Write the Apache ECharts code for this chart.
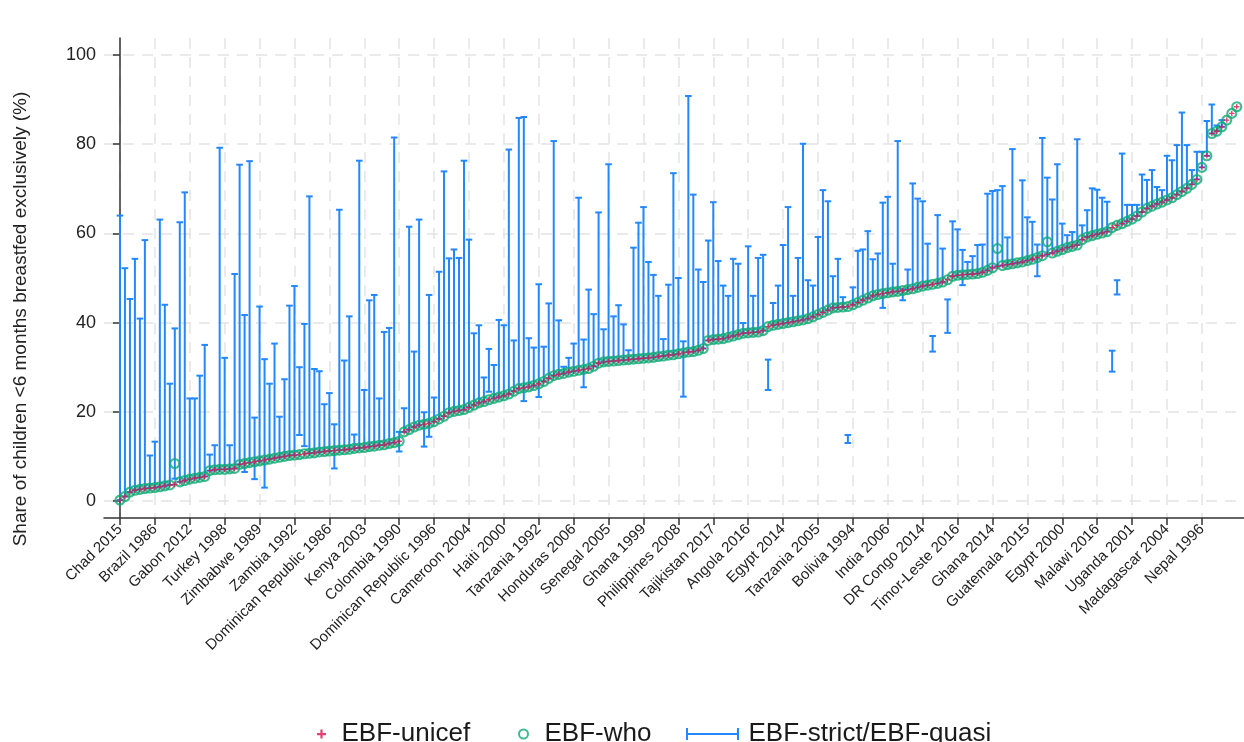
<!DOCTYPE html>
<html>
<head>
<meta charset="utf-8">
<script src="https://cdn.jsdelivr.net/npm/echarts@6.0.0/dist/echarts.min.js"></script>
<style>html,body{margin:0;padding:0;background:#fff}#c{width:1244px;height:742px}</style>
</head>
<body>
<div id="c"></div>
<script>
// Tick positions (category index) and their labels
const tickIndex = [0,7,14,21,28,35,42,49,56,63,70,77,84,91,98,105,112,119,126,133,140,147,154,161,168,175,182,189,196,203,210,217];
const tickLabels = ["Chad 2015","Brazil 1986","Gabon 2012","Turkey 1998","Zimbabwe 1989","Zambia 1992","Dominican Republic 1986","Kenya 2003","Colombia 1990","Dominican Republic 1996","Cameroon 2004","Haiti 2000","Tanzania 1992","Honduras 2006","Senegal 2005","Ghana 1999","Philippines 2008","Tajikistan 2017","Angola 2016","Egypt 2014","Tanzania 2005","Bolivia 1994","India 2006","DR Congo 2014","Timor-Leste 2016","Ghana 2014","Guatemala 2015","Egypt 2000","Malawi 2016","Uganda 2001","Madagascar 2004","Nepal 1996"];
const yTicks = [0,20,40,60,80,100];

// EBF-unicef (sorted survey values)
const unicef = [
0.2,1.0,2.0,2.4,2.6,2.8,2.9,3.0,3.2,3.4,
3.6,3.7,4.3,4.6,4.9,5.1,5.3,5.5,6.8,7.0,
7.1,7.1,7.2,7.3,8.2,8.4,8.6,8.8,9.0,9.2,
9.4,9.6,9.8,10.0,10.2,10.3,10.4,10.6,10.7,10.8,
11.0,11.1,11.2,11.3,11.4,11.5,11.6,11.8,11.9,12.0,
12.2,12.3,12.5,12.6,12.9,13.1,13.4,15.5,16.0,16.6,
17.0,17.2,17.4,17.8,18.4,19.0,19.8,20.1,20.3,20.5,
21.0,21.5,22.0,22.3,22.7,23.0,23.3,23.6,24.0,24.6,
25.2,25.4,25.6,25.9,26.3,26.8,27.5,28.1,28.4,28.6,
28.9,29.1,29.3,29.5,29.7,30.2,30.9,31.2,31.3,31.4,
31.5,31.6,31.7,31.8,31.9,32.0,32.1,32.2,32.4,32.5,
32.7,32.8,33.0,33.2,33.4,33.5,33.8,34.2,36.0,36.2,
36.3,36.4,36.7,37.0,37.3,37.6,37.7,37.8,37.9,38.2,
39.1,39.4,39.6,39.8,40.0,40.2,40.4,40.6,40.9,41.3,
41.8,42.3,42.8,43.3,43.4,43.5,43.6,44.0,44.5,45.0,
45.5,46.0,46.3,46.5,46.7,46.9,47.0,47.2,47.4,47.6,
47.9,48.2,48.4,48.6,48.8,49.1,49.6,50.4,50.6,50.7,
50.8,50.9,51.0,51.3,51.7,52.3,52.6,52.8,53.0,53.2,
53.4,53.6,53.9,54.2,54.6,55.0,55.3,55.6,56.0,56.4,
56.8,57.1,57.4,58.6,59.2,59.5,59.8,60.1,60.4,61.3,
61.8,62.2,62.7,63.2,63.9,64.8,65.6,66.1,66.6,67.0,
67.5,68.0,68.7,69.4,70.1,71.0,72.1,74.8,77.4,82.4,
82.9,83.9,85.4,86.9,88.4];

// EBF-who
const who = [
0.2,1.0,2.0,2.4,2.6,2.8,2.9,3.0,3.2,3.4,
3.6,8.4,4.3,4.6,4.9,5.1,5.3,5.5,6.8,7.0,
7.1,7.1,7.2,7.3,8.2,8.4,8.6,8.8,9.0,9.2,
9.4,9.6,9.8,10.0,10.2,10.3,10.4,10.6,10.7,10.8,
11.0,11.1,11.2,11.3,11.4,11.5,11.6,11.8,11.9,12.0,
12.2,12.3,12.5,12.6,12.9,13.1,13.4,15.5,16.0,16.6,
17.0,17.2,17.4,17.8,18.4,19.0,19.8,20.1,20.3,20.5,
21.0,21.5,22.0,22.3,22.7,23.0,23.3,23.6,24.0,24.6,
25.2,25.4,25.6,25.9,26.3,26.8,27.5,28.1,28.4,28.6,
28.9,29.1,29.3,29.5,29.7,30.2,30.9,31.2,31.3,31.4,
31.5,31.6,31.7,31.8,31.9,32.0,32.1,32.2,32.4,32.5,
32.7,32.8,33.0,33.2,33.4,33.5,33.8,34.2,36.0,36.2,
36.3,36.4,36.7,37.0,37.3,37.6,37.7,37.8,37.9,38.2,
39.1,39.4,39.6,39.8,40.0,40.2,40.4,40.6,40.9,41.3,
41.8,42.3,42.8,43.3,43.4,43.5,43.6,44.0,44.5,45.0,
45.5,46.0,46.3,46.5,46.7,46.9,47.0,47.2,47.4,47.6,
47.9,48.2,48.4,48.6,48.8,49.1,49.6,50.4,50.6,50.7,
50.8,50.9,51.0,51.3,51.7,52.3,56.6,52.8,53.0,53.2,
53.4,53.6,53.9,54.2,54.6,55.0,58.1,55.6,56.0,56.4,
56.8,57.1,57.4,58.6,59.2,59.5,59.8,60.1,60.4,61.3,
61.8,62.2,62.7,63.2,63.9,64.8,65.6,66.1,66.6,67.0,
67.5,68.0,68.7,69.4,70.1,71.0,72.1,74.8,77.4,82.4,
82.9,83.9,85.4,86.9,88.4];

// EBF-strict (lower end of range)
const strictLow = [
0.2,1.0,2.0,2.4,2.6,2.8,2.9,3.0,3.2,3.4,
3.6,5.0,4.3,4.6,4.9,5.1,5.3,5.5,6.8,7.0,
7.1,7.1,7.2,7.3,8.2,6.5,8.6,4.9,9.0,3.0,
9.4,9.6,9.8,10.0,10.2,10.3,14.8,12.3,10.7,10.8,
11.0,11.1,11.2,7.3,11.4,11.5,11.6,11.8,11.9,12.0,
12.2,12.3,12.5,12.6,12.9,13.1,11.1,15.5,16.0,16.6,
17.0,12.2,14.4,17.8,18.4,19.0,19.8,20.1,20.3,20.5,
21.0,21.5,22.0,22.3,24.5,23.0,23.3,23.6,24.0,24.6,
25.2,22.4,25.6,25.9,23.3,26.8,27.5,28.1,28.4,28.6,
28.9,29.1,29.3,25.5,29.7,30.2,30.9,31.2,31.3,31.4,
31.5,31.6,31.7,31.8,31.9,32.0,32.1,32.2,32.4,32.5,
32.7,32.8,33.0,23.4,33.4,33.5,33.8,34.2,36.0,36.2,
36.3,36.4,36.7,37.0,37.3,37.6,37.7,37.8,37.9,38.2,
24.9,39.4,39.6,39.8,40.0,40.2,40.4,40.6,40.9,41.3,
41.8,42.3,42.8,43.3,43.4,43.5,13.0,44.0,44.5,45.0,
45.5,46.0,46.3,43.3,46.7,46.9,47.0,45.0,47.4,47.6,
47.9,48.2,48.4,33.5,48.8,49.1,37.7,50.4,50.6,48.4,
50.8,50.9,51.0,51.3,51.7,52.3,52.6,52.8,53.0,53.2,
53.4,53.6,53.9,54.2,50.4,55.0,55.3,55.6,56.0,56.4,
56.8,57.1,57.4,58.6,59.2,59.5,59.8,60.1,60.4,29.0,
46.3,62.2,62.7,63.2,63.9,64.8,65.6,66.1,66.6,67.0,
67.5,68.0,68.7,69.4,70.1,71.0,72.1,74.8,77.4,82.4,
82.9,83.9,null,null,null];

// EBF-quasi (upper end of range)
const quasiHigh = [
64.0,52.2,45.3,54.3,40.9,58.5,10.2,13.3,63.1,44.0,
26.3,38.7,62.5,69.2,23.0,23.0,28.1,35.0,10.4,12.5,
79.2,32.1,12.5,50.9,75.4,41.7,76.2,18.7,43.6,31.8,
26.3,35.3,18.9,27.3,43.8,48.2,30.0,39.7,68.3,29.6,
29.1,21.7,24.2,17.2,65.3,31.5,41.4,14.9,76.3,24.9,
45.0,46.2,23.0,37.9,38.8,81.5,15.5,20.8,61.5,33.5,
63.1,19.9,46.2,23.2,51.4,73.9,54.4,56.4,54.5,76.3,
58.6,37.6,39.4,27.7,34.1,30.5,40.6,39.4,78.8,36.0,
85.9,86.1,36.5,34.4,48.6,34.6,44.3,80.7,40.5,30.1,
32.1,35.3,68.0,36.2,47.4,41.9,64.7,38.5,75.5,41.4,
43.9,39.6,33.8,56.8,62.4,65.9,53.6,50.7,46.0,36.3,
48.5,73.5,50.0,35.8,90.8,68.7,51.9,49.1,58.4,67.0,
53.8,48.3,46.0,54.3,53.2,39.9,57.1,46.0,54.5,55.2,
31.7,44.4,48.3,57.4,65.9,46.0,54.5,80.1,49.5,48.3,
59.2,69.7,67.2,50.4,54.3,45.7,14.8,47.9,56.1,56.4,
60.5,54.2,55.5,66.9,68.2,53.2,80.7,47.5,51.9,71.2,
67.8,67.2,57.7,37.0,64.1,56.6,45.2,62.7,60.9,56.3,
53.6,54.9,57.4,57.5,68.9,69.5,69.7,70.6,59.1,78.9,
53.4,71.9,63.6,62.6,57.5,81.4,72.5,67.6,75.5,62.2,
59.6,60.3,81.1,61.8,65.2,70.1,69.8,68.0,67.1,33.7,
49.5,77.9,66.4,66.4,66.4,73.2,72.0,74.2,70.4,69.7,
77.4,76.4,79.8,87.1,79.8,74.2,78.3,78.3,85.2,88.9,
84.2,85.4,null,null,null];

const BLUE = '#2388ff', GREEN = '#10aa76', RED = '#d4174f';
const PLUS = 'path://M3,0h2v3h3v2h-3v3h-2v-3h-3v-2h3z';
const BARICON = 'path://M0,0h2v5h49v-5h2v12h-2v-5h-49v5h-2z';
const FONT = '"Liberation Sans", Arial, sans-serif';

const unicefData = unicef.map((v, i) => [i, v]);
const whoData = who.map((v, i) => [i, v]);
const rangeData = [];
quasiHigh.forEach((h, i) => { if (h != null && strictLow[i] != null) rangeData.push([i, strictLow[i], h]); });

const chart = echarts.init(document.getElementById('c'), null, {renderer: 'canvas'});
const gridStyle = {color: '#e4e4e4', type: [11, 8], width: 1.5};
const axisStyle = {color: '#333', width: 1.5};

chart.setOption({
  animation: false,
  textStyle: {fontFamily: FONT},
  grid: {left: 104, right: 0, top: 38, bottom: 224},
  xAxis: {
    type: 'value', min: -3.2, max: 225.45,
    axisLine: {show: true, onZero: false, lineStyle: axisStyle},
    axisTick: {show: true, customValues: tickIndex, length: 7, lineStyle: axisStyle},
    axisLabel: {
      customValues: tickIndex, rotate: 45, fontSize: 15, color: '#222', margin: 9, fontFamily: FONT,
      formatter: v => { const k = tickIndex.indexOf(Math.round(v)); return k >= 0 ? tickLabels[k] : ''; }
    },
    splitLine: {show: true, lineStyle: gridStyle}
  },
  yAxis: {
    type: 'value', min: -3.81, max: 103.81,
    name: 'Share of children <6 months breastfed exclusively (%)',
    nameLocation: 'middle', nameGap: 74,
    nameTextStyle: {fontSize: 19, color: '#222', fontFamily: FONT, padding: [0, 82, 0, 0]},
    axisLine: {show: true, lineStyle: axisStyle},
    axisTick: {show: true, customValues: yTicks, length: 7, lineStyle: axisStyle},
    axisLabel: {customValues: yTicks, fontSize: 18, color: '#222', margin: 8, fontFamily: FONT},
    splitLine: {show: true, lineStyle: gridStyle}
  },
  legend: [
    {data: [{name: 'EBF-unicef', icon: PLUS}], left: 312, top: 716, itemWidth: 30, itemHeight: 9,
     selectedMode: false, itemStyle: {color: RED, borderWidth: 0},
     textStyle: {fontSize: 26, color: '#1a1a1a', fontFamily: FONT}},
    {data: [{name: 'EBF-who', icon: 'circle'}], left: 513, top: 716, itemWidth: 32, itemHeight: 9,
     selectedMode: false, itemStyle: {color: '#fff', borderColor: GREEN, borderWidth: 2},
     textStyle: {fontSize: 26, color: '#1a1a1a', fontFamily: FONT}},
    {data: [{name: 'EBF-strict/EBF-quasi', icon: BARICON}], left: 681, top: 716, itemWidth: 62, itemHeight: 12,
     selectedMode: false, itemStyle: {color: BLUE, borderWidth: 0},
     textStyle: {fontSize: 26, color: '#1a1a1a', fontFamily: FONT}}
  ],
  series: [
    {
      name: 'EBF-strict/EBF-quasi', type: 'custom', z: 1,
      itemStyle: {color: BLUE},
      encode: {x: 0, y: [1, 2]},
      data: rangeData,
      renderItem: function (params, api) {
        const x = api.value(0), lo = api.value(1), hi = api.value(2);
        const a = api.coord([x, lo]), b = api.coord([x, hi]);
        const hw = 3.3;
        const st = {stroke: BLUE, lineWidth: 2, fill: null};
        return {type: 'group', children: [
          {type: 'line', shape: {x1: a[0], y1: a[1], x2: b[0], y2: b[1]}, style: st},
          {type: 'line', shape: {x1: a[0] - hw, y1: a[1], x2: a[0] + hw, y2: a[1]}, style: st},
          {type: 'line', shape: {x1: b[0] - hw, y1: b[1], x2: b[0] + hw, y2: b[1]}, style: st}
        ]};
      }
    },
    {
      name: 'EBF-who', type: 'scatter', z: 2, symbol: 'circle', symbolSize: 9,
      itemStyle: {color: 'rgba(255,255,255,0)', borderColor: GREEN, borderWidth: 2.1},
      data: whoData
    },
    {
      name: 'EBF-unicef', type: 'scatter', z: 3, symbol: PLUS, symbolSize: 5.5,
      itemStyle: {color: RED},
      data: unicefData
    }
  ]
});
</script>
</body>
</html>
